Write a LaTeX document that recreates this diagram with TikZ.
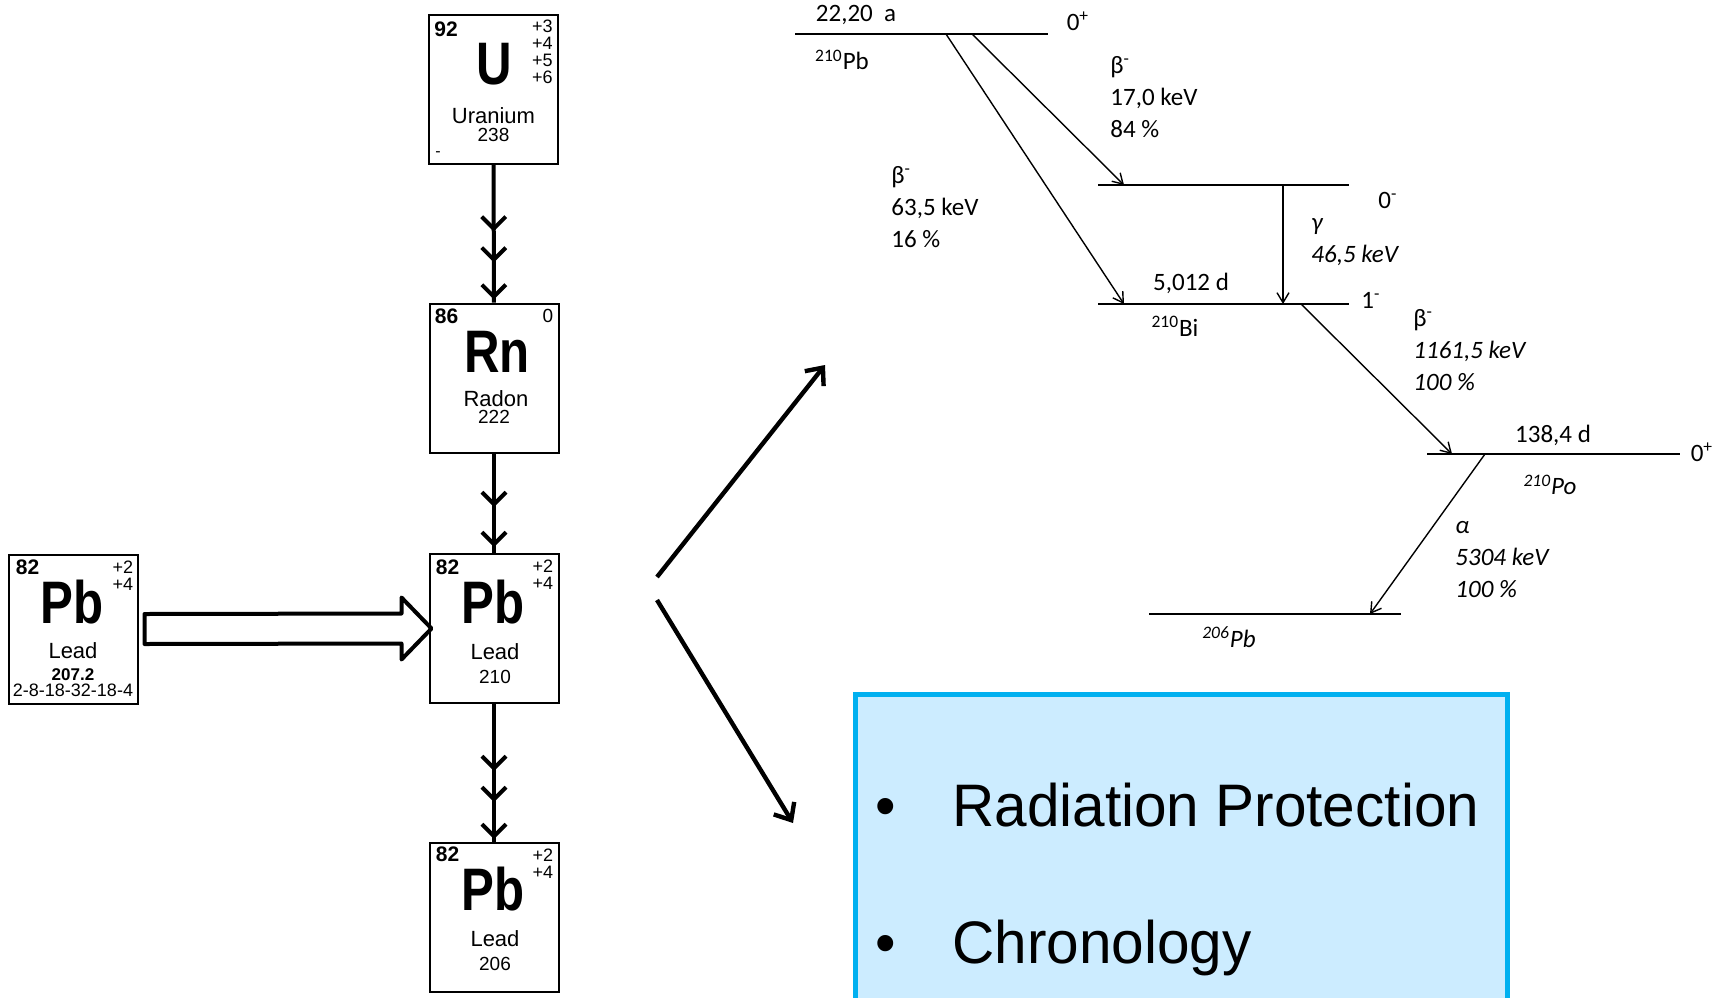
\documentclass[tikz,border=0pt]{standalone}
\usepackage{fontspec}
\setmainfont{Liberation Sans}
\newfontfamily\calfont{Carlito}
\usetikzlibrary{positioning,arrows.meta,calc,decorations.markings}
\definecolor{usesedge}{RGB}{0,176,240}
\definecolor{usesfill}{RGB}{204,236,255}
\tikzset{
  chev/.tip={Straight Barb[length=6pt,width=12pt]},
  elembox/.style={draw, line width=1pt, fill=white, minimum width=64.5pt, minimum height=74.5pt, inner sep=0pt},
  znum/.style={font=\fontsize{10.5}{10.5}\selectfont\bfseries, inner sep=0pt, anchor=base west},
  oxnum/.style={font=\fontsize{9}{8.5}\selectfont, inner sep=0pt, anchor=north east, align=right},
  elsym/.style={font=\fontsize{30}{30}\selectfont\bfseries, inner sep=0pt, anchor=base, xscale=0.82},
  elname/.style={font=\fontsize{11}{11}\selectfont, inner sep=0pt, anchor=base},
  elmass/.style={font=\fontsize{9.5}{9.5}\selectfont, inner sep=0pt, anchor=base},
  chainline/.style={line width=2pt, postaction=decorate},
  chainthree/.style={chainline, decoration={markings,
      mark=at position -1.5pt with {\arrow{chev}},
      mark=at position -20pt with {\arrow{chev}},
      mark=at position -35.5pt with {\arrow{chev}}}},
  chaintwo/.style={chainline, decoration={markings,
      mark=at position -3pt with {\arrow{chev}},
      mark=at position -23pt with {\arrow{chev}}}},
  blockarrow/.style={draw, line width=2pt, fill=white, line join=round},
  forkarrow/.style={line width=2.2pt, -{Straight Barb[length=7pt,width=12pt]}},
  lvline/.style={line width=0.8pt},
  decayarrow/.style={line width=0.7pt, -{Straight Barb[length=5pt,width=6pt]}},
  lvtext/.style={font=\calfont\fontsize{12.5}{16}\selectfont, inner sep=0pt},
  ital/.style={font=\calfont\itshape\fontsize{12.5}{16}\selectfont},
  decaylabel/.style={lvtext, anchor=west, align=left},
  usesbox/.style={draw=usesedge, line width=2.5pt, fill=usesfill},
  usestext/.style={font=\fontsize{30}{36}\selectfont, inner sep=0pt, xscale=0.975}
}

\begin{document}
\begin{tikzpicture}[x=0.5pt, y=-0.5pt]
  \useasboundingbox (0,0) rectangle (1720,997);

  % element squares
  \node[elembox] (u) at (493.5,89.5) {};
  \node[znum] at ($(u.north west)+(6,22)$) {92};
  \node[oxnum] at ($(u.north east)+(-6,6)$) {+3\\+4\\+5\\+6};
  \node[elsym] at ($(u.north)+(1,70)$) {U};
  \node[elname] at ($(u.north)+(0,109)$) {Uranium};
  \node[elmass] at ($(u.north)+(0,127)$) {238};
  \node[znum, font=\fontsize{8}{8}\selectfont] at ($(u.north west)+(7,142)$) {-};

  \node[elembox] (rn) at (494,378) {};
  \node[znum] at ($(rn.north west)+(6,21)$) {86};
  \node[znum, font=\fontsize{9.5}{9.5}\selectfont, anchor=base east] at ($(rn.north east)+(-6,20)$) {0};
  \node[elsym] at ($(rn.north)+(3,70)$) {Rn};
  \node[elname] at ($(rn.north)+(2,104)$) {Radon};
  \node[elmass] at ($(rn.north)+(0,121)$) {222};

  \node[elembox] (pbm) at (494,628.5) {};
  \node[znum] at ($(pbm.north west)+(7,21)$) {82};
  \node[oxnum] at ($(pbm.north east)+(-6,7)$) {+2\\+4};
  \node[elsym] at ($(pbm.north)+(-1,70)$) {Pb};
  \node[elname] at ($(pbm.north)+(1,106)$) {Lead};
  \node[elmass] at ($(pbm.north)+(1,130)$) {210};

  \node[elembox] (pbd) at (494,917.5) {};
  \node[znum] at ($(pbd.north west)+(7,19)$) {82};
  \node[oxnum] at ($(pbd.north east)+(-6,7)$) {+2\\+4};
  \node[elsym] at ($(pbd.north)+(-1,68)$) {Pb};
  \node[elname] at ($(pbd.north)+(1,104)$) {Lead};
  \node[elmass] at ($(pbd.north)+(1,128)$) {206};

  \node[elembox] (pbl) at (73,629) {};
  \node[znum] at ($(pbl.north west)+(8,21)$) {82};
  \node[oxnum] at ($(pbl.north east)+(-5,7)$) {+2\\+4};
  \node[elsym] at ($(pbl.north)+(-1,70)$) {Pb};
  \node[elname] at ($(pbl.north)+(0,105)$) {Lead};
  \node[elmass, font=\fontsize{8.5}{8.5}\selectfont\bfseries] at ($(pbl.north)+(0,127)$) {207.2};
  \node[elmass, font=\fontsize{9}{9}\selectfont] at ($(pbl.north)+(0,143)$) {2-8-18-32-18-4};

  % decay chain
  \draw[chainthree] (u) -- (rn);
  \draw[chaintwo] (rn) -- (pbm);
  \draw[chainthree] (pbm) -- (pbd);
  \draw[blockarrow] ($(pbl.east)+(6,-15)$) -- ($(pbm.west)+(-27,-15)$) -- ($(pbm.west)+(-27,-31)$)
    -- ($(pbm.west)+(3,0)$) -- ($(pbm.west)+(-27,31)$) -- ($(pbm.west)+(-27,15)$)
    -- ($(pbl.east)+(6,15)$) -- cycle;

  % fork
  \coordinate (forkup) at (657,577);
  \coordinate (toscheme) at (825,365);
  \coordinate (forkdown) at (657,600);
  \coordinate (touses) at (793,823);
  \draw[forkarrow] (forkup) -- (toscheme);
  \draw[forkarrow] (forkdown) -- (touses);

  % level scheme
  \coordinate (pbL) at (795,34);   \coordinate (pbR) at (1048,34);
  \coordinate (exL) at (1098,185); \coordinate (exR) at (1349,185);
  \coordinate (biL) at (1098,304); \coordinate (biR) at (1349,304);
  \coordinate (poL) at (1427,454); \coordinate (poR) at (1680,454);
  \coordinate (fnL) at (1149,614); \coordinate (fnR) at (1401,614);
  \foreach \a/\b in {pbL/pbR, exL/exR, biL/biR, poL/poR, fnL/fnR}
    \draw[lvline] (\a) -- (\b);

  \coordinate (pb84) at (972,34);   \coordinate (ex84) at (1124,185);
  \coordinate (pb16) at (946,34);   \coordinate (bi16) at (1124,304);
  \coordinate (exg) at (1283,185);  \coordinate (big) at (1283,304);
  \coordinate (bib) at (1301,304);  \coordinate (pob) at (1452,454);
  \coordinate (poa) at (1485,454);  \coordinate (fna) at (1370,614);
  \draw[decayarrow] (pb84) -- (ex84);
  \draw[decayarrow] (pb16) -- (bi16);
  \draw[decayarrow] (exg) -- (big);
  \draw[decayarrow] (bib) -- (pob);
  \draw[decayarrow] (poa) -- (fna);

  \node[lvtext] (tpb) at (856,15) {22,20~ a};
  \node[lvtext] (spb) at (1078,21) {0\textsuperscript{+}};
  \node[lvtext] (npb) at (842,60) {\textsuperscript{210}Pb};
  \node[lvtext] (sex) at (1388,200) {0\textsuperscript{-}};
  \node[lvtext] (tbi) at (1191,283) {5,012 d};
  \node[lvtext] (sbi) at (1371,300) {1\textsuperscript{-}};
  \node[lvtext] (nbi) at (1175,326) {\textsuperscript{210}Bi};
  \node[lvtext] (tpo) at (1553,435) {138,4 d};
  \node[lvtext] (spo) at (1702,452) {0\textsuperscript{+}};
  \node[lvtext, ital] (npo) at (1550,485) {\textsuperscript{210}Po};
  \node[lvtext, ital] (nfn) at (1229,637) {\textsuperscript{206}Pb};

  \node[decaylabel] (b84) at (1110,97) {β\textsuperscript{-}\\17,0 keV\\84 \%};
  \node[decaylabel] (b16) at (891,207) {β\textsuperscript{-}\\63,5 keV\\16 \%};
  \node[decaylabel, ital] (gam) at (1311,242) {γ\\46,5 keV};
  \node[decaylabel] (b100) at (1413,350) {β\textsuperscript{-}\\\textit{1161,5 keV}\\\textit{100 \%}};
  \node[decaylabel, ital] (alp) at (1455,560) {α\\5304 keV\\100 \%};

  % applications
  \draw[usesbox] (855,694) rectangle (1507,1012);
  \node[usestext, anchor=base] (dot1) at (886,826) {•};
  \node[usestext, anchor=base west] (rp) at (952,826) {Radiation Protection};
  \node[usestext, anchor=base] (dot2) at (886,963) {•};
  \node[usestext, anchor=base west] (chr) at (952,963) {Chronology};
\end{tikzpicture}
\end{document}
